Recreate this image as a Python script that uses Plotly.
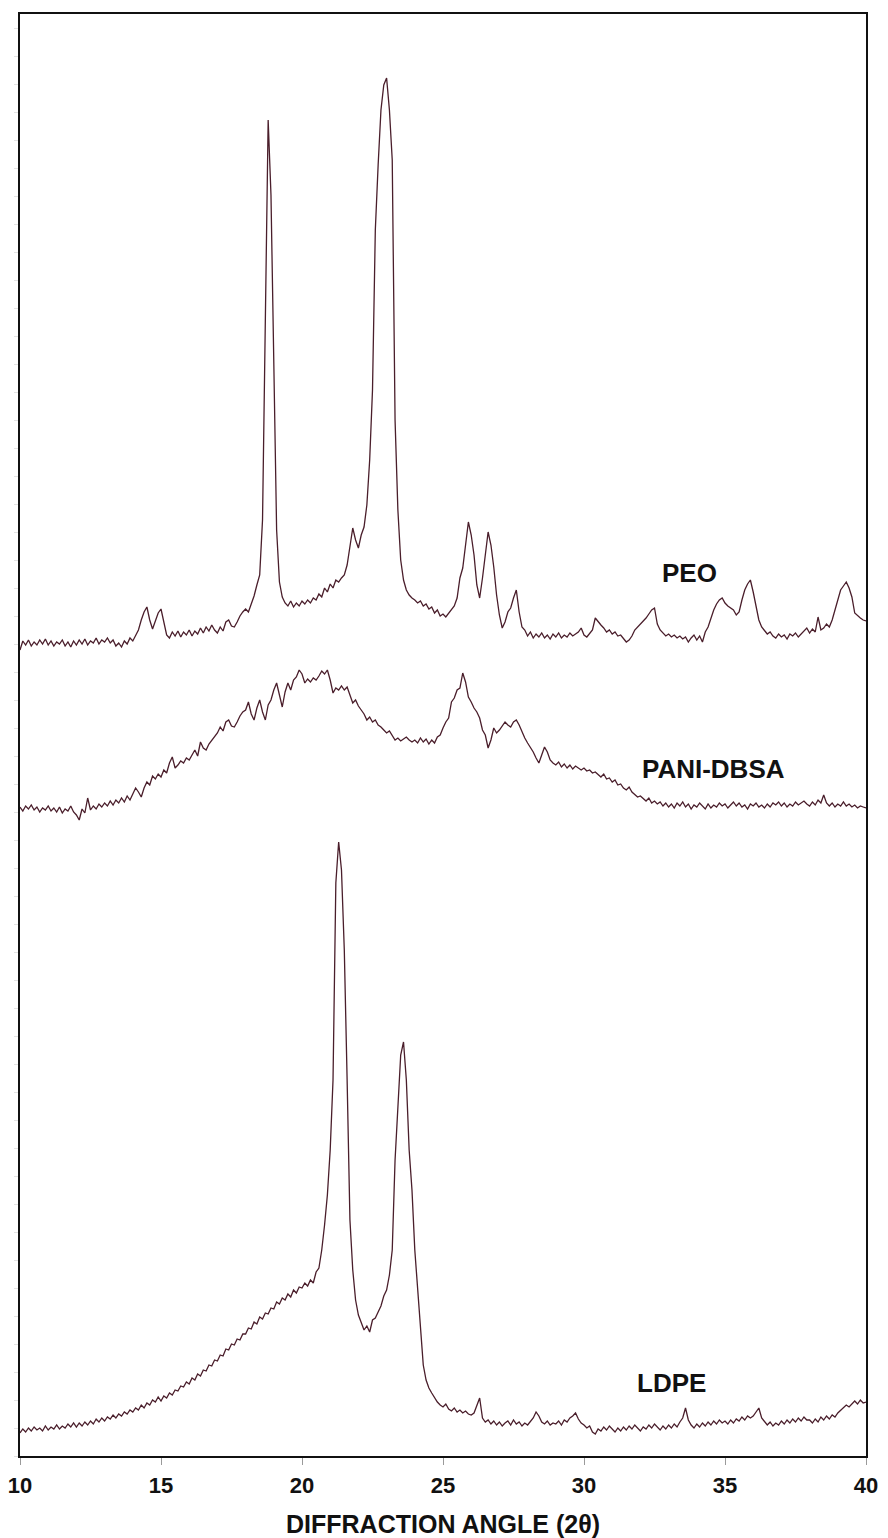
import plotly.graph_objects as go

# Diffraction angle grid (2-theta, degrees), 0.1 degree step from 10 to 40
two_theta = [round(10 + 0.1 * i, 1) for i in range(301)]

# Stacked intensity traces (arbitrary units, offset for display)
peo = [
    850, 859, 855, 860, 854, 858, 855, 860, 856, 861,
    855, 859, 854, 858, 856, 860, 854, 858, 853, 859,
    855, 860, 856, 861, 855, 859, 857, 862, 856, 860,
    858, 862, 857, 860, 854, 857, 853, 859, 856, 862,
    859, 864, 870, 880, 888, 893, 880, 871, 878, 887,
    891, 876, 865, 862, 868, 864, 869, 863, 868, 865,
    870, 864, 869, 866, 872, 867, 873, 869, 875, 870,
    867, 873, 869, 878, 880, 874, 873, 878, 884, 888,
    891, 888, 896, 904, 915, 925, 980, 1200, 1380, 1305,
    1120, 970, 918, 903, 897, 894, 899, 893, 897, 894,
    899, 896, 900, 897, 902, 900, 906, 903, 912, 908,
    916, 912, 920, 918, 922, 925, 935, 955, 972, 960,
    952, 965, 973, 995, 1040, 1110, 1270, 1335, 1390, 1415,
    1422, 1390, 1340, 1080, 990, 940, 920, 910, 905, 902,
    900, 897, 899, 894, 896, 891, 893, 887, 890, 884,
    886, 883, 887, 890, 894, 902, 922, 932, 955, 978,
    965, 945, 915, 902, 922, 945, 968, 955, 933, 905,
    885, 872, 878, 888, 892, 902, 910, 888, 873, 870,
    864, 868, 862, 866, 863, 867, 862, 865, 861, 866,
    863, 867, 862, 865, 863, 867, 864, 866, 868, 872,
    865, 863, 867, 870, 882, 878, 875, 872, 868, 870,
    866, 868, 864, 865, 861, 858, 860, 864, 870, 873,
    875, 878, 882, 886, 890, 892, 876, 870, 867, 864,
    866, 863, 865, 862, 864, 861, 863, 858, 862, 865,
    860, 864, 858, 868, 873, 882, 890, 896, 900, 902,
    897, 894, 892, 890, 885, 888, 900, 910, 916, 920,
    908, 894, 880, 873, 870, 866, 868, 864, 862, 866,
    863, 865, 861, 866, 864, 867, 863, 866, 869, 872,
    867, 871, 868, 883, 870, 872, 876, 873, 880, 890,
    900, 910, 914, 918, 912, 903, 887, 884, 882, 880,
    879,
]

pani_dbsa = [
    693, 689, 694, 691, 695, 690, 693, 688, 692, 690,
    694, 689, 692, 688, 693, 687, 691, 689, 694, 688,
    685, 680, 691, 687, 702, 690, 694, 691, 696, 693,
    697, 694, 699, 695, 700, 697, 702, 698, 704, 700,
    706, 712, 708, 703, 712, 718, 715, 724, 721, 726,
    723, 730, 727, 737, 743, 732, 735, 739, 737, 742,
    740, 745, 750, 744, 758, 752, 750, 756, 760, 763,
    767, 773, 769, 778, 780, 774, 773, 778, 784, 788,
    790, 798, 786, 780, 792, 800, 788, 780, 795, 800,
    810, 817, 804, 793, 808, 817, 810, 820, 823, 830,
    826, 817, 821, 818, 822, 820, 824, 829, 826, 830,
    820, 807, 812, 810, 814, 810, 813, 805, 797, 800,
    794, 790, 786, 780, 783, 778, 780, 775, 773, 770,
    767, 769, 764, 760, 762, 759, 761, 763, 760, 758,
    760, 757, 762, 758, 761, 756, 760, 757, 763, 765,
    772, 778, 782, 798, 802, 810, 812, 827, 818, 803,
    798, 792, 788, 782, 770, 765, 752, 760, 772, 767,
    770, 774, 778, 775, 773, 778, 780, 775, 768, 762,
    757, 753, 748, 742, 737, 745, 753, 748, 740, 737,
    735, 738, 733, 736, 732, 735, 731, 734, 732, 730,
    732, 729, 730, 727, 728, 725, 723, 726, 721, 722,
    718, 720, 715, 716, 712, 710, 713, 708, 705, 703,
    704, 701, 699, 702, 697, 699, 696, 698, 694, 697,
    693, 696, 692, 697, 694, 698, 693, 696, 691, 695,
    693, 697, 694, 691, 696, 692, 695, 693, 697, 694,
    696, 692, 695, 698, 694, 697, 693, 695, 691, 696,
    694, 697, 693, 695, 692, 696, 693, 697, 695, 698,
    694, 697, 693, 696, 694, 698, 695, 697, 699, 696,
    694, 698, 695, 700, 697, 705, 697, 694, 697, 693,
    696, 694, 698, 694, 696, 693, 695, 692, 694, 693,
    692,
]

ldpe = [
    67, 71, 68, 72, 69, 73, 70, 72, 69, 74,
    70, 73, 71, 75, 71, 74, 72, 76, 73, 77,
    73, 77, 74, 78, 75, 79, 76, 81, 78, 82,
    79, 83, 81, 85, 82, 86, 84, 88, 86, 90,
    88, 92, 90, 95, 92, 97, 95, 100, 98, 103,
    99, 104, 102, 107, 105, 110, 109, 114, 113, 118,
    116, 122, 120, 126, 124, 130, 129, 135, 134, 140,
    139, 145, 144, 151, 150, 156, 155, 161, 160, 166,
    166, 172, 171, 178, 176, 183, 181, 187, 186, 192,
    191, 198, 196, 202, 200, 206, 203, 210, 207, 213,
    212, 217, 214, 220, 217, 228, 232, 250, 275, 305,
    350, 420, 617, 658, 630, 550, 420, 280, 230, 200,
    185, 178, 170, 174, 168, 180, 182, 188, 194, 204,
    210, 225, 250, 340, 400, 445, 458, 420, 350, 310,
    250, 210, 165, 135, 120, 112, 107, 102, 98, 95,
    93, 96, 91, 89, 92, 88, 90, 87, 89, 86,
    85, 87, 95, 102, 82, 78, 80, 76, 79, 75,
    78, 74, 77, 79, 75, 80, 76, 78, 74, 77,
    75, 79, 82, 88, 84, 78, 76, 79, 75, 77,
    76, 79, 75, 80, 78, 82, 84, 87, 81, 77,
    75, 72, 74, 68, 66, 71, 69, 73, 70, 74,
    71, 68, 72, 69, 73, 70, 74, 71, 75, 72,
    69, 73, 71, 75, 72, 76, 73, 70, 74, 71,
    75, 72, 76, 73, 78, 82, 92, 80, 75, 72,
    76, 73, 77, 74, 78, 75, 79, 76, 80, 77,
    79, 76, 80, 77, 81, 79, 83, 80, 84, 82,
    84, 88, 92, 82, 78, 75, 78, 74, 77, 75,
    79, 76, 80, 77, 81, 78, 82, 79, 83, 80,
    80, 77, 81, 78, 83, 80, 84, 81, 85, 83,
    87, 90, 92, 95, 93, 96, 99, 96, 100, 97,
    98,
]

series_names = ["PEO", "PANI-DBSA", "LDPE"]
series_values = [peo, pani_dbsa, ldpe]
# label anchor points (2-theta, intensity) for each trace name
label_x = [33.75, 34.6, 33.1]
label_y = [927, 731, 117]

x_ticks = [10, 15, 20, 25, 30, 35, 40]

line_color = "#4a1e2b"

fig = go.Figure()
for name, vals in zip(series_names, series_values):
    fig.add_trace(go.Scatter(
        x=two_theta, y=vals, mode="lines", name=name,
        line=dict(color=line_color, width=1.3),
        showlegend=False,
    ))

for name, lx, ly in zip(series_names, label_x, label_y):
    fig.add_annotation(
        x=lx, y=ly, text=f"<b>{name}</b>", showarrow=False,
        font=dict(family="Liberation Sans, Arial, sans-serif", size=26, color="#111111"),
        xanchor="center", yanchor="middle",
    )

fig.update_layout(
    width=888, height=1538,
    margin=dict(l=20, r=22, t=14, b=82, autoexpand=False),
    paper_bgcolor="white", plot_bgcolor="white",
    font=dict(family="Liberation Sans, Arial, sans-serif", color="#111111"),
)

fig.update_xaxes(
    range=[10, 40],
    automargin=False,
    tickvals=x_ticks,
    ticktext=[f"<b>{t}</b>" for t in x_ticks],
    tickfont=dict(size=22, color="#111111"),
    ticks="outside", ticklen=7, tickcolor="#9a9a9a", tickwidth=1,
    ticklabelstandoff=2,
    showline=True, linewidth=2, linecolor="#111111", mirror=True,
    showgrid=False, zeroline=False,
    title=dict(text="<b>DIFFRACTION ANGLE (2θ)</b>",
               font=dict(size=25, color="#111111"), standoff=20),
)

fig.update_yaxes(
    range=[44, 1486],
    automargin=False,
    showticklabels=False,
    ticks="outside", ticklen=4, tickcolor="#e2e2e2", dtick=28, tick0=44,
    showline=True, linewidth=2, linecolor="#111111", mirror=True,
    showgrid=False, zeroline=False,
)

fig.write_html("out.html")
